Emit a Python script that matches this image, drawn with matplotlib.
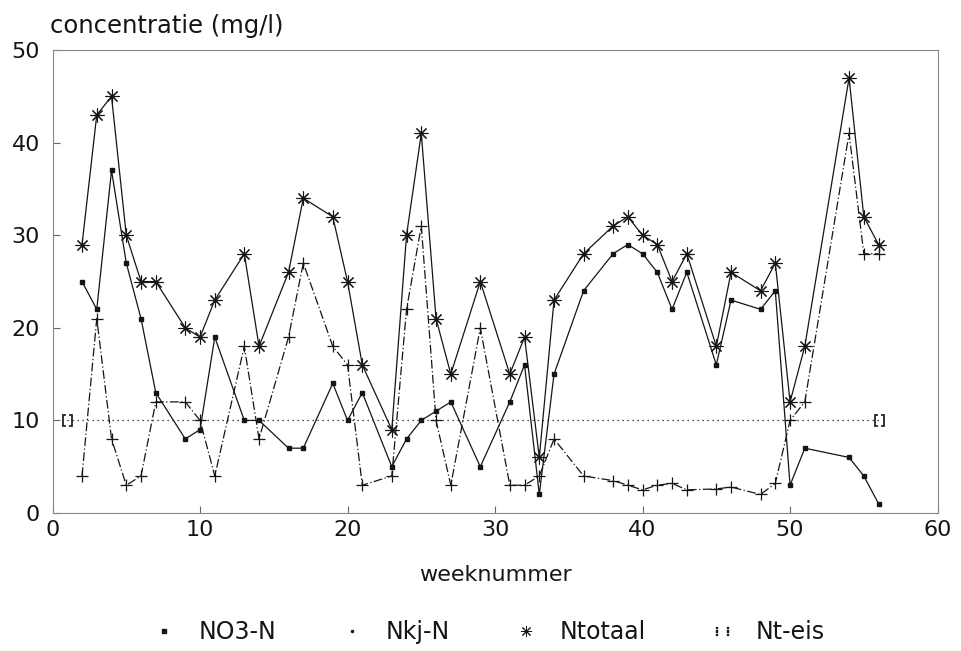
import matplotlib
matplotlib.use("Agg")
import matplotlib.pyplot as plt
from matplotlib.lines import Line2D

# weeks with measurements (same for all three measured series)
weeks = [2, 3, 4, 5, 6, 7, 9, 10, 11, 13, 14, 16, 17, 19, 20, 21, 23, 24, 25, 26, 27,
         29, 31, 32, 33, 34, 36, 38, 39, 40, 41, 42, 43, 45, 46, 48, 49, 50, 51, 54, 55, 56]

no3_n = [25, 22, 37, 27, 21, 13, 8, 9, 19, 10, 10, 7, 7, 14, 10, 13, 5, 8, 10, 11, 12,
         5, 12, 16, 2, 15, 24, 28, 29, 28, 26, 22, 26, 16, 23, 22, 24, 3, 7, 6, 4, 1]

nkj_n = [4, 21, 8, 3, 4, 12, 12, 10, 4, 18, 8, 19, 27, 18, 16, 3, 4, 22, 31, 10, 3,
         20, 3, 3, 4, 8, 4, 3.5, 3, 2.5, 3, 3.2, 2.5, 2.6, 2.8, 2, 3.2, 10, 12, 41, 28, 28]

ntotaal = [29, 43, 45, 30, 25, 25, 20, 19, 23, 28, 18, 26, 34, 32, 25, 16, 9, 30, 41, 21, 15,
           25, 15, 19, 6, 23, 28, 31, 32, 30, 29, 25, 28, 18, 26, 24, 27, 12, 18, 47, 32, 29]

# requirement (norm) for total nitrogen
eis_weeks = [1, 56]
nt_eis = [10, 10]

ink = "#151515"
plt.rcParams["font.family"] = ["DejaVu Sans"]

fig = plt.figure(figsize=(9.62, 6.51), dpi=100)
ax = fig.add_axes([0.0546, 0.212, 0.92, 0.711])

ax.plot(eis_weeks, nt_eis, color=ink, lw=0.9, ls=(0, (1, 3)),
        marker=r"$[\,]$", ms=8, mew=0.5)
ax.plot(weeks, nkj_n, color=ink, lw=0.9, ls=(0, (7, 2, 1, 2)),
        marker="+", ms=9, mew=0.9)
ax.plot(weeks, no3_n, color=ink, lw=0.9, ls="-",
        marker="s", ms=3.2)
ax.plot(weeks, ntotaal, color=ink, lw=0.9, ls="-",
        marker=(8, 2, 0), ms=10, mew=0.8)

ax.set_xlim(0, 60)
ax.set_ylim(0, 50)
ax.set_xticks([0, 10, 20, 30, 40, 50, 60])
ax.set_yticks([0, 10, 20, 30, 40, 50])
ax.tick_params(direction="in", length=5, width=0.8, color="#666",
               labelsize=16, labelcolor=ink)
ax.tick_params(axis="x", pad=5)
ax.tick_params(axis="y", pad=9)
for sp in ax.spines.values():
    sp.set_color("#888")
    sp.set_linewidth(0.8)

ax.set_xlabel("weeknummer", fontsize=16, color=ink, labelpad=18)
fig.text(50 / 962, 1 - 33 / 651, "concentratie (mg/l)", fontsize=17.5,
         color=ink, ha="left", va="baseline")

handles = [
    Line2D([], [], ls="none", marker="s", ms=3, color=ink),
    Line2D([], [], ls="none", marker=".", ms=3, color=ink),
    Line2D([], [], ls="none", marker=(8, 2, 0), ms=8, mew=0.7, color=ink),
    Line2D([], [], ls="none", marker=r"$\vdots\,\vdots$", ms=9, color=ink),
]
labels = ["NO3-N", "Nkj-N", "Ntotaal", "Nt-eis"]
fig.legend(handles, labels, loc="center", bbox_to_anchor=(0.508, 0.029), ncol=4,
           frameon=False, fontsize=17, handlelength=1.0, handletextpad=0.95,
           columnspacing=2.7, labelcolor=ink)

fig.savefig("out.png", dpi=100)
